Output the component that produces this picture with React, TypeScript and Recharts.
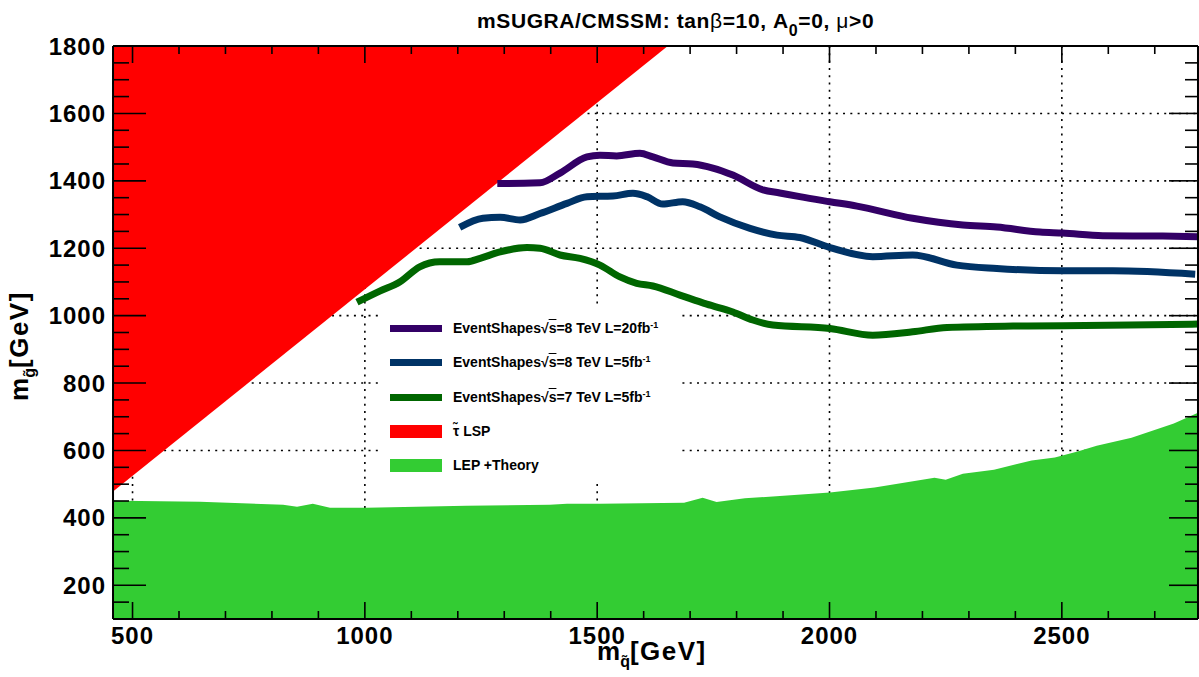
import { ComposedChart, Area, Line, XAxis, YAxis, CartesianGrid } from 'recharts'

const FONT = '"Liberation Sans", Arial, Helvetica, sans-serif'

// axis ticks
const xMajor = [500, 1000, 1500, 2000, 2500]
const xMinor = [600, 700, 800, 900, 1100, 1200, 1300, 1400, 1600, 1700, 1800, 1900, 2100, 2200, 2300, 2400, 2600, 2700]
const yMajor = [200, 400, 600, 800, 1000, 1200, 1400, 1600, 1800]
const yMinor = [150, 250, 300, 350, 450, 500, 550, 650, 700, 750, 850, 900, 950, 1050, 1100, 1150, 1250, 1300, 1350, 1450, 1500, 1550, 1650, 1700, 1750]

// EventShapes sqrt(s)=8 TeV, L=20 fb-1
const es8L20X = [1285, 1290, 1377, 1420, 1478, 1506, 1542, 1592, 1620, 1663, 1706, 1749, 1792, 1857, 1893, 1936, 2001, 2059, 2179, 2287, 2360, 2453, 2502, 2588, 2717, 2793]
const es8L20Y = [1392, 1392, 1394, 1423, 1471, 1476, 1474, 1482, 1471, 1453, 1450, 1438, 1417, 1373, 1364, 1353, 1338, 1325, 1289, 1269, 1263, 1248, 1245, 1237, 1236, 1234]

// EventShapes sqrt(s)=8 TeV, L=5 fb-1
const es8L5X = [1204, 1254, 1291, 1334, 1377, 1435, 1478, 1534, 1577, 1607, 1641, 1684, 1721, 1764, 1829, 1887, 1936, 2001, 2093, 2179, 2274, 2360, 2502, 2610, 2787]
const es8L5Y = [1262, 1289, 1292, 1284, 1303, 1333, 1353, 1355, 1363, 1353, 1331, 1338, 1323, 1293, 1259, 1239, 1232, 1202, 1175, 1180, 1150, 1140, 1133, 1133, 1123]

// EventShapes sqrt(s)=7 TeV, L=5 fb-1
const es7L5X = [983, 1032, 1075, 1118, 1161, 1220, 1248, 1291, 1349, 1377, 1420, 1463, 1506, 1549, 1585, 1620, 1678, 1736, 1792, 1835, 1878, 2001, 2093, 2179, 2253, 2395, 2502, 2646, 2793]
const es7L5Y = [1040, 1073, 1100, 1145, 1160, 1160, 1170, 1189, 1202, 1200, 1180, 1170, 1150, 1115, 1096, 1088, 1061, 1034, 1011, 987, 972, 962, 942, 952, 965, 969, 970, 972, 975]

// stau LSP region (between edge and top of plot)
const stauX = [458, 1652]
const stauEdge = [478, 1800]
const stauTop = [1800, 1800]

// LEP + theory excluded region
const lepX = [458, 473, 645, 824, 854, 888, 925, 1004, 1219, 1398, 1435, 1506, 1687, 1727, 1757, 1818, 2001, 2097, 2226, 2250, 2287, 2354, 2435, 2485, 2534, 2575, 2650, 2741, 2793]
const lepY = [452, 451, 448, 439, 433, 442, 430, 430, 436, 439, 442, 442, 445, 460, 447, 458, 475, 490, 519, 513, 531, 543, 570, 579, 597, 614, 638, 680, 712]

const toPoints = (xs: number[], ys: number[]) => xs.map((x, i) => ({ x, y: ys[i] }))

const es8L20 = toPoints(es8L20X, es8L20Y)
const es8L5 = toPoints(es8L5X, es8L5Y)
const es7L5 = toPoints(es7L5X, es7L5Y)
const lep = toPoints(lepX, lepY)
const stau = stauX.map((x, i) => ({ x, band: [stauEdge[i], stauTop[i]] }))

const X_DOMAIN: [number, number] = [458, 2793]
const Y_DOMAIN: [number, number] = [100, 1800]
const THIN = 0.01

const tickFont = { fill: '#000', fontSize: 24, fontWeight: 700, fontFamily: FONT, letterSpacing: 1 }
const tickStroke = { stroke: '#000', strokeWidth: 1.6 }
const NoLabel = () => <g />

const legendItems = [
  { kind: 'line', color: '#330066', label: 'EventShapes', e: '8', lumi: '20' },
  { kind: 'line', color: '#003366', label: 'EventShapes', e: '8', lumi: '5' },
  { kind: 'line', color: '#006600', label: 'EventShapes', e: '7', lumi: '5' },
  { kind: 'box', color: '#FF0000', label: 'τ\u0303 LSP' },
  { kind: 'box', color: '#33CC33', label: 'LEP +Theory' },
]
const legendRowCenters = [328, 362, 397, 431, 465]

const axisTitle = { position: 'absolute' as const, fontSize: 26, fontWeight: 700, lineHeight: '32px', whiteSpace: 'nowrap' as const }

export default function App() {
  return (
    <div style={{ position: 'absolute', left: 0, top: 0, width: 1199, height: 677, background: '#fff', fontFamily: FONT }}>
      <ComposedChart width={1199} height={677} margin={{ top: 46, right: 1, bottom: 58, left: 113 }}>
        <CartesianGrid stroke="#000" strokeDasharray="2 5.3" strokeWidth={1.6} />
        <Area data={lep} dataKey="y" type="linear" fill="#33CC33" fillOpacity={1} stroke="none" baseValue={100} isAnimationActive={false} />
        <Line data={es8L20} dataKey="y" type="monotone" stroke="#330066" strokeWidth={7} dot={false} activeDot={false} isAnimationActive={false} />
        <Line data={es8L5} dataKey="y" type="monotone" stroke="#003366" strokeWidth={7} dot={false} activeDot={false} isAnimationActive={false} />
        <Line data={es7L5} dataKey="y" type="monotone" stroke="#006600" strokeWidth={7} dot={false} activeDot={false} isAnimationActive={false} />
        <Area data={stau} dataKey="band" type="linear" fill="#FF0000" fillOpacity={1} stroke="none" isAnimationActive={false} />

        <XAxis dataKey="x" type="number" domain={X_DOMAIN} allowDataOverflow ticks={xMajor} interval={0} height={THIN}
          tickSize={-17} tickMargin={25} tick={tickFont} tickLine={tickStroke} axisLine={{ stroke: '#000', strokeWidth: 2 }} />
        <XAxis xAxisId="minorB" dataKey="x" type="number" domain={X_DOMAIN} allowDataOverflow ticks={xMinor} interval={0} height={THIN}
          tickSize={-8} tick={NoLabel} tickLine={tickStroke} axisLine={false} />
        <XAxis xAxisId="top" orientation="top" dataKey="x" type="number" domain={X_DOMAIN} allowDataOverflow ticks={xMajor} interval={0} height={THIN}
          tickSize={-17} tick={NoLabel} tickLine={tickStroke} axisLine={{ stroke: '#000', strokeWidth: 2 }} />
        <XAxis xAxisId="minorT" orientation="top" dataKey="x" type="number" domain={X_DOMAIN} allowDataOverflow ticks={xMinor} interval={0} height={THIN}
          tickSize={-8} tick={NoLabel} tickLine={tickStroke} axisLine={false} />

        <YAxis type="number" domain={Y_DOMAIN} allowDataOverflow ticks={yMajor} interval={0} width={THIN}
          tickSize={-33} tickMargin={40} tick={tickFont} tickLine={tickStroke} axisLine={{ stroke: '#000', strokeWidth: 2 }} />
        <YAxis yAxisId="minorL" type="number" domain={Y_DOMAIN} allowDataOverflow ticks={yMinor} interval={0} width={THIN}
          tickSize={-16} tick={NoLabel} tickLine={tickStroke} axisLine={false} />
        <YAxis yAxisId="right" orientation="right" type="number" domain={Y_DOMAIN} allowDataOverflow ticks={yMajor} interval={0} width={THIN}
          tickSize={-29} tick={NoLabel} tickLine={tickStroke} axisLine={{ stroke: '#000', strokeWidth: 2 }} />
        <YAxis yAxisId="minorR" orientation="right" type="number" domain={Y_DOMAIN} allowDataOverflow ticks={yMinor} interval={0} width={THIN}
          tickSize={-13} tick={NoLabel} tickLine={tickStroke} axisLine={false} />
      </ComposedChart>

      {/* title */}
      <div style={{ position: 'absolute', left: 477, top: 9, fontSize: 21, fontWeight: 700, letterSpacing: 0.6, lineHeight: '24px', whiteSpace: 'nowrap' }}>
        mSUGRA/CMSSM: tan<span style={{ fontWeight: 400 }}>β</span>=10, A
        <span style={{ position: 'relative', top: 8, fontSize: 16 }}>0</span>=0, <span style={{ fontWeight: 400 }}>μ</span>&gt;0
      </div>

      {/* x axis title */}
      <div style={{ ...axisTitle, left: 597, top: 635 }}>
        m<span style={{ position: 'relative', top: 7, fontSize: 16 }}>q̃</span><span style={{ letterSpacing: 1.5 }}>[GeV]</span>
      </div>

      {/* y axis title */}
      <div style={{ ...axisTitle, left: 21, top: 346, transform: 'translate(-50%, -50%) rotate(-90deg)' }}>
        m<span style={{ position: 'relative', top: 7, fontSize: 16 }}>g̃</span><span style={{ letterSpacing: 1.5 }}>[GeV]</span>
      </div>

      {/* legend */}
      <div style={{ position: 'absolute', left: 378, top: 308, width: 304, height: 176, background: '#fff' }} />
      {legendItems.map((it, i) => (
        <div key={i} style={{ position: 'absolute', left: 390, top: legendRowCenters[i] - 10, height: 20, display: 'flex', alignItems: 'center', whiteSpace: 'nowrap' }}>
          <div style={{ width: 52, height: it.kind === 'line' ? 7 : 13, background: it.color }} />
          <div style={{ marginLeft: 11, fontSize: 14, fontWeight: 700 }}>
            {it.kind === 'line' ? (
              <>
                {it.label}√<span style={{ textDecoration: 'overline' }}>s</span>={it.e} TeV L={it.lumi}fb
                <span style={{ position: 'relative', top: -5, fontSize: 9 }}>-1</span>
              </>
            ) : (
              it.label
            )}
          </div>
        </div>
      ))}
    </div>
  )
}
